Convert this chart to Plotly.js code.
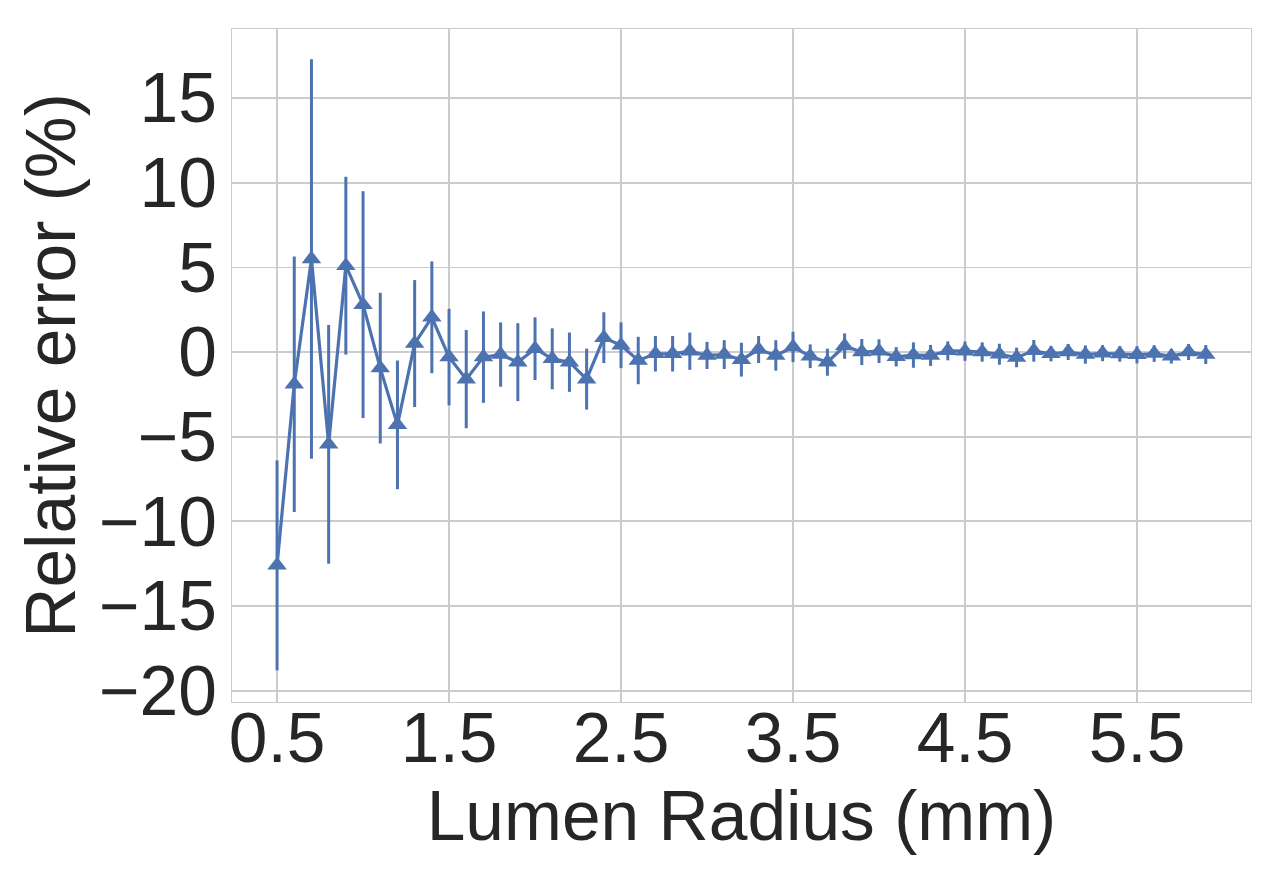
<!DOCTYPE html>
<html>
<head>
<meta charset="utf-8">
<script src="https://cdn.plot.ly/plotly-3.0.1.min.js"></script>
<style>html,body{margin:0;padding:0;background:#fff;}#chart{width:1280px;height:880px;}</style>
</head>
<body>
<div id="chart"></div>
<script>
const radius = [0.5,0.6,0.7,0.8,0.9,1.0,1.1,1.2,1.3,1.4,1.5,1.6,1.7,1.8,1.9,2.0,2.1,2.2,2.3,2.4,2.5,2.6,2.7,2.8,2.9,3.0,3.1,3.2,3.3,3.4,3.5,3.6,3.7,3.8,3.9,4.0,4.1,4.2,4.3,4.4,4.5,4.6,4.7,4.8,4.9,5.0,5.1,5.2,5.3,5.4,5.5,5.6,5.7,5.8,5.9];
const relError = [-12.6,-1.9,5.5,-5.45,5.1,2.8,-0.95,-4.3,0.5,2.05,-0.3,-1.6,-0.3,-0.15,-0.6,0.2,-0.4,-0.6,-1.6,0.85,0.4,-0.5,-0.1,-0.1,0.05,-0.2,-0.15,-0.45,0.15,-0.2,0.3,-0.25,-0.6,0.35,0.0,0.05,-0.28,-0.18,-0.2,0.07,0.05,0.0,-0.13,-0.32,0.07,-0.1,0.0,-0.15,-0.07,-0.11,-0.16,-0.09,-0.25,0.0,-0.15];
const errStd = [6.2,7.55,11.8,7.05,5.25,6.7,4.45,3.8,3.75,3.3,2.85,2.9,2.7,1.9,2.3,1.85,1.8,1.75,1.8,1.5,1.35,1.4,1.05,1.05,1.1,0.8,0.85,1.0,0.8,0.9,0.9,0.7,0.8,0.75,0.77,0.7,0.57,0.75,0.62,0.56,0.57,0.57,0.62,0.58,0.64,0.45,0.47,0.54,0.47,0.46,0.51,0.49,0.43,0.47,0.56];
const xTicks = [0.5,1.5,2.5,3.5,4.5,5.5];
const yTicks = [-20,-15,-10,-5,0,5,10,15];

const blue = '#4C72B0';
const textColor = '#262626';
const font = 'Liberation Sans, Arial, sans-serif';
const fs = 69.5;

const trace = {
  x: radius, y: relError, type: 'scatter', mode: 'lines+markers',
  line: {color: blue, width: 3.2},
  marker: {symbol: 'triangle-up', size: 17, color: blue},
  error_y: {type: 'data', array: errStd, visible: true, color: blue, thickness: 3, width: 0},
  showlegend: false
};

const layout = {
  width: 1280, height: 880,
  margin: {l: 232, r: 29, t: 29, b: 178},
  paper_bgcolor: '#fff', plot_bgcolor: '#fff',
  font: {family: font, size: fs, color: textColor},
  xaxis: {
    range: [0.238, 6.163], tickvals: xTicks, ticktext: xTicks.map(v => v.toFixed(1)),
    showgrid: true, gridcolor: '#cccccc', gridwidth: 1.7, zeroline: false,
    showline: true, linecolor: '#cccccc', linewidth: 1.2, mirror: true,
    ticks: '', ticklabelstandoff: -25,
    tickfont: {family: font, size: fs, color: textColor},
    title: {text: 'Lumen Radius (mm)', font: {family: font, size: fs, color: textColor}, standoff: 0}
  },
  yaxis: {
    range: [-20.67, 19.08], tickvals: yTicks,
    showgrid: true, gridcolor: '#cccccc', gridwidth: 1.7, zeroline: false,
    showline: true, linecolor: '#cccccc', linewidth: 1.2, mirror: true,
    ticks: '',
    tickfont: {family: font, size: fs, color: textColor},
    title: {text: 'Relative error (%)', font: {family: font, size: fs, color: textColor}, standoff: 0}
  }
};

Plotly.newPlot('chart', [trace], layout, {displayModeBar: false, staticPlot: true});
</script>
</body>
</html>
